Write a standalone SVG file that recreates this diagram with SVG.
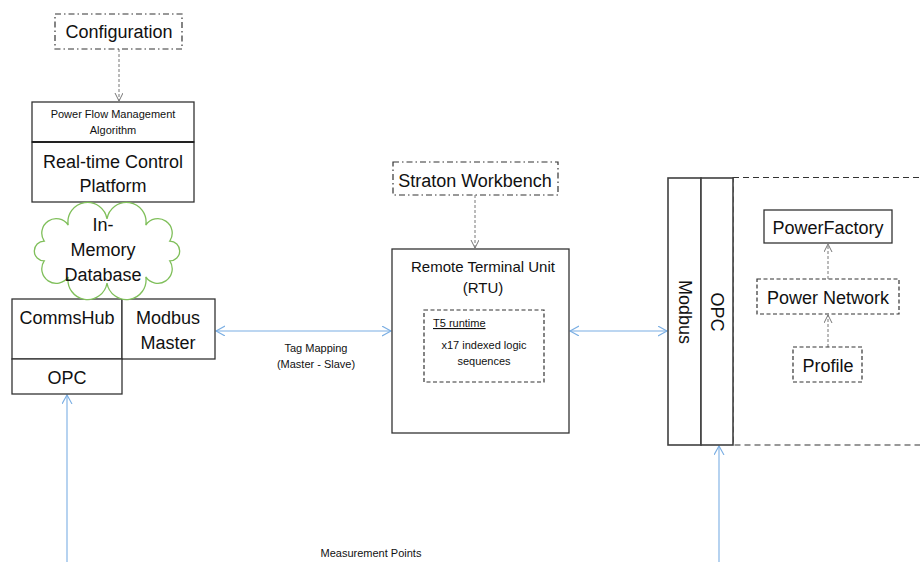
<svg xmlns="http://www.w3.org/2000/svg" width="920" height="562" viewBox="0 0 920 562">
<style>
text{font-family:"Liberation Sans",Arial,sans-serif;fill:#111;text-anchor:middle}
.big{font-size:18px}
.mid{font-size:15px}
.sm{font-size:11px}
.box{fill:#fff;stroke:#333;stroke-width:1.3}
.dashdot{fill:#fff;stroke:#333;stroke-width:1.2;stroke-dasharray:6 3 1.5 3}
.dash{fill:#fff;stroke:#333;stroke-width:1.2;stroke-dasharray:4 2.5}
.bar{fill:#fff;stroke:#404040;stroke-width:1.6}
.gconn{fill:none;stroke:#777;stroke-width:1;stroke-dasharray:3 2}
.bconn{fill:none;stroke:#7aaee3;stroke-width:1.1}
</style>
<defs>
<marker id="ga" markerWidth="10" markerHeight="10" refX="8" refY="4" orient="auto-start-reverse" markerUnits="userSpaceOnUse">
<path d="M0,0 L8,4 L0,8" fill="none" stroke="#777" stroke-width="1"/>
</marker>
<marker id="ba" markerWidth="12" markerHeight="12" refX="9" refY="5" orient="auto-start-reverse" markerUnits="userSpaceOnUse">
<path d="M0,0 L9,5 L0,10" fill="none" stroke="#7aaee3" stroke-width="1.1"/>
</marker>
</defs>

<g id="dashed-area">
<rect x="733" y="177.5" width="200" height="267.5" fill="#fff" stroke="#333" stroke-width="1.2" stroke-dasharray="6 4"/>
</g>

<g id="connectors">
<line class="gconn" x1="119" y1="49" x2="119" y2="101" marker-end="url(#ga)"/>
<line class="gconn" x1="475" y1="195" x2="475" y2="248" marker-end="url(#ga)"/>
<line class="gconn" x1="828" y1="279" x2="828" y2="244" marker-end="url(#ga)"/>
<line class="gconn" x1="828" y1="347" x2="828" y2="315" marker-end="url(#ga)"/>
<line class="bconn" x1="216" y1="331" x2="391" y2="331" marker-start="url(#ba)" marker-end="url(#ba)"/>
<line class="bconn" x1="570" y1="331" x2="667" y2="331" marker-start="url(#ba)" marker-end="url(#ba)"/>
<line class="bconn" x1="67" y1="562" x2="67" y2="395" marker-end="url(#ba)"/>
<line class="bconn" x1="719" y1="562" x2="719" y2="446" marker-end="url(#ba)"/>
<text class="sm" x="316" y="352">Tag Mapping</text>
<text class="sm" x="316" y="368">(Master - Slave)</text>
<text class="sm" x="371" y="557">Measurement Points</text>
</g>

<g id="configuration">
<rect class="dashdot" x="55" y="14" width="127" height="35"/>
<text class="big" x="119" y="38">Configuration</text>
</g>

<g id="pfma">
<rect class="box" x="32" y="102" width="162" height="40"/>
<text class="sm" x="113" y="118">Power Flow Management</text>
<text class="sm" x="113" y="134">Algorithm</text>
</g>

<g id="rcp">
<rect class="box" x="32" y="142" width="162" height="60"/>
<line x1="32" y1="142" x2="194" y2="142" stroke="#222" stroke-width="2.2"/>
<text class="big" x="113" y="168">Real-time Control</text>
<text class="big" x="113" y="192">Platform</text>
</g>

<g id="commshub">
<rect class="box" x="12" y="299" width="110" height="60"/>
<text class="big" x="67" y="324">CommsHub</text>
</g>
<g id="modbus-master">
<rect class="box" x="122" y="299" width="93" height="60"/>
<text class="big" x="168" y="324">Modbus</text>
<text class="big" x="168" y="349">Master</text>
</g>
<g id="opc-left">
<rect class="box" x="12" y="359" width="110" height="35"/>
<text class="big" x="67" y="384">OPC</text>
</g>

<g id="cloud">
<path d="M44.2,241.1 A1,1 0 0 1 68.2,225.1 A1,1 0 0 1 107,219 A1,1 0 0 1 145.8,225.1 A1,1 0 0 1 169.8,241.1 A1,1 0 0 1 169.8,260.9 A1,1 0 0 1 145.8,276.9 A1,1 0 0 1 107,283 A1,1 0 0 1 68.2,276.9 A1,1 0 0 1 44.2,260.9 A1,1 0 0 1 44.2,241.1 Z" fill="#fff" stroke="#7fbf5a" stroke-width="1.3"/>
<text class="big" x="103" y="231">In-</text>
<text class="big" x="103" y="256">Memory</text>
<text class="big" x="103" y="281">Database</text>
</g>

<g id="straton">
<rect class="dashdot" x="393" y="162" width="165" height="33"/>
<text class="big" x="475" y="187">Straton Workbench</text>
</g>

<g id="rtu">
<rect class="box" x="392" y="249" width="177" height="184"/>
<text class="mid" x="483" y="272">Remote Terminal Unit</text>
<text class="mid" x="483" y="293">(RTU)</text>
</g>
<g id="t5">
<rect class="dash" x="424" y="310" width="120" height="72"/>
<text class="sm" x="433" y="327" style="text-anchor:start" text-decoration="underline">T5 runtime</text>
<text class="sm" x="484" y="349">x17 indexed logic</text>
<text class="sm" x="484" y="365">sequences</text>
</g>

<g id="modbus-bar">
<rect class="bar" x="668" y="178" width="33" height="267"/>
<text class="big" transform="translate(685,312) rotate(90)" y="6">Modbus</text>
</g>
<g id="opc-bar">
<rect class="bar" x="701" y="178" width="32" height="267"/>
<text class="big" transform="translate(717,312) rotate(90)" y="6">OPC</text>
</g>

<g id="powerfactory">
<rect class="box" x="764" y="210" width="128" height="33"/>
<text class="big" x="828" y="234">PowerFactory</text>
</g>
<g id="power-network">
<rect class="dash" x="757" y="279" width="142" height="35"/>
<text class="big" x="828" y="304">Power Network</text>
</g>
<g id="profile">
<rect class="dash" x="793" y="347" width="69" height="35"/>
<text class="big" x="828" y="372">Profile</text>
</g>
</svg>
